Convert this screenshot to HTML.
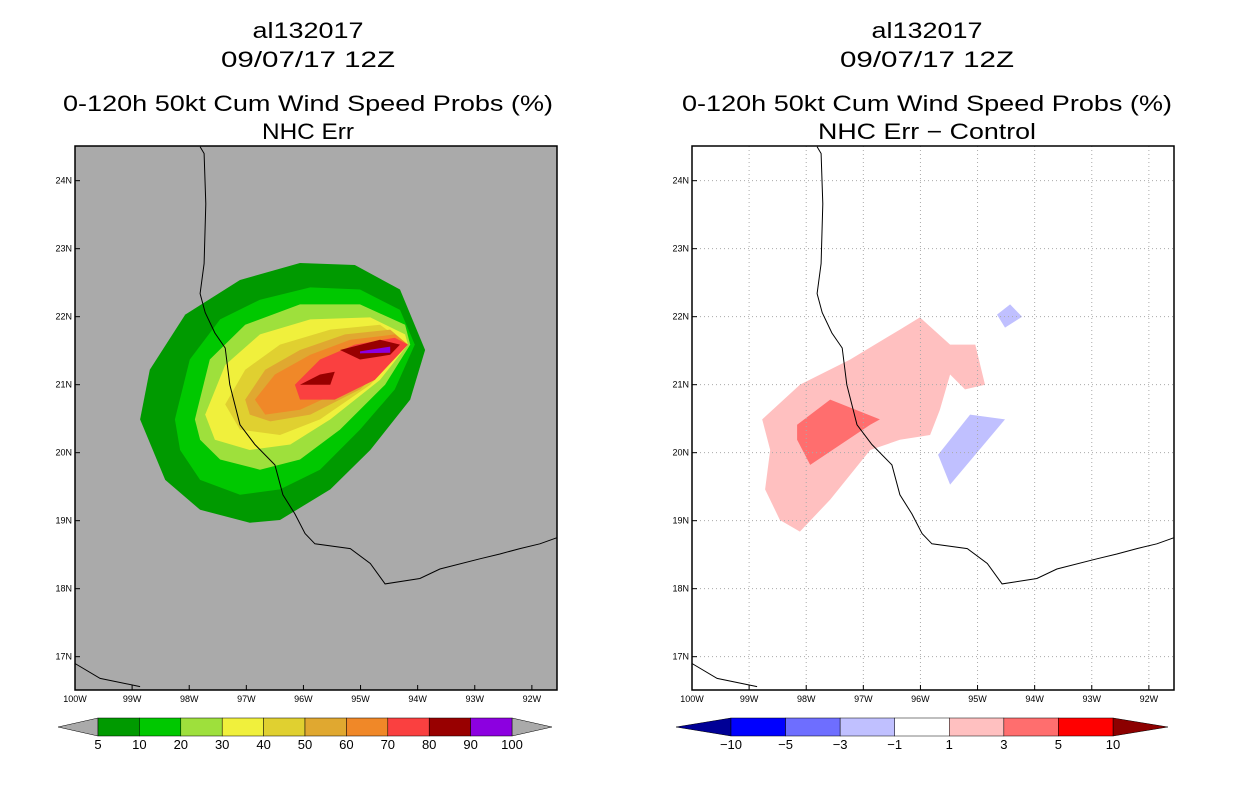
<!DOCTYPE html>
<html><head><meta charset="utf-8"><style>
body{margin:0;background:#fff;}
svg{display:block;font-family:"Liberation Sans",sans-serif;}
</style></head><body>
<svg id="c" width="1236" height="800" xmlns="http://www.w3.org/2000/svg"></svg>
<script>
const lonTicks=[-100,-99,-98,-97,-96,-95,-94,-93,-92];
const latTicks=[17,18,19,20,21,22,23,24];
const probLevels=[5,10,20,30,40,50,60,70,80,90,100];
const probColors=["#009a00","#00c800","#9ee03c","#f0f03c","#e0d030","#e0a830","#f08828","#fa4040","#980000","#8c00e0"];
const diffLevels=[-10,-5,-3,-1,1,3,5,10];
const diffColors=["#000096","#0000ff","#6e6eff","#c0c0ff","#ffffff","#ffc0c0","#ff6e6e","#ff0000","#8c0000"];
const probPolys=[
 [0,[[-98.86,20.49],[-98.69,21.22],[-98.07,22.03],[-97.11,22.54],[-96.06,22.79],[-95.10,22.76],[-94.31,22.40],[-93.87,21.51],[-94.13,20.78],[-94.83,20.04],[-95.53,19.46],[-96.41,19.01],[-96.94,18.97],[-97.81,19.16],[-98.42,19.60]]],
 [1,[[-98.25,20.49],[-97.99,21.37],[-97.46,21.96],[-96.76,22.25],[-95.88,22.43],[-95.01,22.40],[-94.31,22.10],[-94.05,21.59],[-94.40,20.93],[-95.01,20.34],[-95.71,19.75],[-96.41,19.46],[-97.11,19.38],[-97.81,19.60],[-98.16,20.04]]],
 [2,[[-97.90,20.49],[-97.64,21.37],[-97.02,21.88],[-96.06,22.18],[-95.01,22.18],[-94.22,21.88],[-94.13,21.59],[-94.57,21.00],[-95.36,20.34],[-96.06,19.90],[-96.76,19.75],[-97.46,19.90],[-97.81,20.19]]],
 [3,[[-97.72,20.56],[-97.37,21.29],[-96.76,21.74],[-95.88,21.96],[-94.83,21.99],[-94.22,21.74],[-94.17,21.59],[-94.66,21.07],[-95.53,20.49],[-96.23,20.12],[-96.94,20.04],[-97.55,20.19]]],
 [4,[[-97.37,20.71],[-97.02,21.22],[-96.41,21.59],[-95.53,21.81],[-94.66,21.88],[-94.17,21.59],[-94.83,21.00],[-95.71,20.49],[-96.41,20.26],[-97.11,20.34]]],
 [5,[[-97.02,20.78],[-96.67,21.22],[-96.06,21.51],[-95.27,21.74],[-94.48,21.81],[-94.17,21.59],[-95.01,20.93],[-95.88,20.56],[-96.58,20.46],[-96.94,20.56]]],
 [6,[[-96.85,20.78],[-96.50,21.15],[-95.88,21.44],[-95.18,21.66],[-94.40,21.74],[-94.17,21.59],[-95.10,21.00],[-96.06,20.63],[-96.67,20.56]]],
 [7,[[-96.15,21.00],[-95.71,21.37],[-95.10,21.59],[-94.40,21.69],[-94.17,21.59],[-94.75,21.07],[-95.45,20.78],[-96.06,20.78]]],
 [8,[[-96.06,21.00],[-95.71,21.15],[-95.45,21.19],[-95.53,21.00]]],
 [8,[[-95.36,21.51],[-94.66,21.66],[-94.31,21.59],[-94.48,21.44],[-95.01,21.37]]],
 [9,[[-95.01,21.49],[-94.48,21.56],[-94.48,21.47],[-95.01,21.46]]]
];
const diffPolys=[
 [5,[[-98.77,20.49],[-98.11,21.00],[-97.23,21.37],[-96.36,21.81],[-96.01,21.99],[-95.48,21.59],[-95.04,21.59],[-94.87,21.00],[-95.22,20.93],[-95.48,21.15],[-95.66,20.63],[-95.83,20.26],[-96.36,20.19],[-96.88,20.04],[-97.58,19.31],[-98.11,18.84],[-98.46,19.01],[-98.72,19.46],[-98.63,20.04]]],
 [6,[[-98.16,20.41],[-97.58,20.78],[-96.71,20.49],[-96.88,20.41],[-97.93,19.82],[-98.16,20.19]]],
 [3,[[-95.69,19.97],[-95.13,20.56],[-94.52,20.49],[-95.48,19.53]]],
 [3,[[-94.66,22.03],[-94.43,22.18],[-94.22,22.00],[-94.52,21.84]]]
];
const coast=[[-97.81,24.5],[-97.74,24.40],[-97.71,23.66],[-97.74,22.78],[-97.81,22.34],[-97.72,22.06],[-97.55,21.76],[-97.37,21.54],[-97.29,21.00],[-97.11,20.41],[-96.85,20.12],[-96.50,19.82],[-96.36,19.38],[-96.15,19.10],[-95.97,18.81],[-95.80,18.66],[-95.18,18.59],[-94.83,18.37],[-94.57,18.07],[-93.96,18.15],[-93.61,18.29],[-92.91,18.44],[-92.56,18.51],[-92.21,18.59],[-91.86,18.66],[-91.56,18.75]];
const coast2=[[-100,16.90],[-99.56,16.68],[-98.86,16.56]];
const panels=[{x0:75,cx:308,title:"NHC Err",tw:92,fill:"#aaaaaa",grid:false,name:"left"},{x0:692,cx:927,title:"NHC Err \u2212 Control",tw:218,fill:"#ffffff",grid:true,name:"right"}];
const NS="http://www.w3.org/2000/svg",svg=document.getElementById('c');
function mk(t,a,p){const e=document.createElementNS(NS,t);for(const k in a)e.setAttribute(k,a[k]);(p||svg).appendChild(e);return e;}
const W=482,Y0=146,H=544,LON0=-100,LON1=-91.56,LAT0=16.51,LAT1=24.51;
panels.forEach(P=>{
 const X=l=>P.x0+(l-LON0)/(LON1-LON0)*W, Y=l=>Y0+(LAT1-l)/(LAT1-LAT0)*H;
 [["al132017",38,111],["09/07/17 12Z",67,174],["0-120h 50kt Cum Wind Speed Probs (%)",111,490],[P.title,139,P.tw]].forEach((t,i)=>{
  const e=mk('text',{x:P.cx,y:t[1],'text-anchor':'middle','font-size':22,fill:'#000',textLength:t[2],lengthAdjust:'spacingAndGlyphs'});e.textContent=t[0];
  
  
 });
 const bg=mk('rect',{x:P.x0,y:Y0,width:W,height:H,fill:P.fill});
 
 
 const pts=poly=>poly.map(p=>X(p[0]).toFixed(1)+','+Y(p[1]).toFixed(1)).join(' ');
 const polys=P.grid?diffPolys:probPolys, cols=P.grid?diffColors:probColors;
 polys.forEach(pp=>{
  const e=mk('polygon',{points:pts(pp[1]),fill:cols[pp[0]]});
  
  
 });
 if(P.grid){
  lonTicks.forEach(l=>{const e=mk('line',{x1:X(l),x2:X(l),y1:Y0,y2:Y0+H,stroke:'#aaa','stroke-dasharray':'1,3'});});
  latTicks.forEach(l=>{const e=mk('line',{x1:P.x0,x2:P.x0+W,y1:Y(l),y2:Y(l),stroke:'#aaa','stroke-dasharray':'1,3'});});
 }
 [coast,coast2].forEach(c=>{const e=mk('polyline',{points:pts(c),fill:'none',stroke:'#000','stroke-width':1});});
 const fr=mk('rect',{x:P.x0,y:Y0,width:W,height:H,fill:'none',stroke:'#000','stroke-width':1.5});
 
 
 lonTicks.forEach(l=>{
  mk('line',{x1:X(l),x2:X(l),y1:Y0+H,y2:Y0+H-5,stroke:'#000'});
  const e=mk('text',{x:X(l),y:Y0+H+12,'text-anchor':'middle','font-size':9});e.textContent=Math.abs(l)+'W';
  
  
 });
 latTicks.forEach(l=>{
  mk('line',{x1:P.x0,x2:P.x0+5,y1:Y(l),y2:Y(l),stroke:'#000'});
  const e=mk('text',{x:P.x0-3,y:Y(l)+3,'text-anchor':'end','font-size':9});e.textContent=l+'N';
  
  
 });
 const lev=P.grid?diffLevels:probLevels;
 const cb0=P.grid?731:98, cb1=P.grid?1113:512, tri=P.grid?55:40, yT=718,hB=18;
 const bw=(cb1-cb0)/(lev.length-1);
 const lcol=P.grid?diffColors[0]:"#aaaaaa", rcol=P.grid?diffColors[diffColors.length-1]:"#aaaaaa";
 const boxCols=P.grid?diffColors.slice(1,-1):probColors;
 let e=mk('polygon',{points:`${cb0},${yT} ${cb0-tri},${yT+hB/2} ${cb0},${yT+hB}`,fill:lcol,stroke:'#000','stroke-width':0.5});
 
 
 e=mk('polygon',{points:`${cb1},${yT} ${cb1+tri},${yT+hB/2} ${cb1},${yT+hB}`,fill:rcol,stroke:'#000','stroke-width':0.5});
 
 
 boxCols.forEach((c,i)=>{
  const r=mk('rect',{x:cb0+i*bw,y:yT,width:bw,height:hB,fill:c,stroke:'#000','stroke-width':0.5});
  
  
 });
 lev.forEach((v,i)=>{
  const t=mk('text',{x:cb0+i*bw,y:yT+hB+13,'text-anchor':'middle','font-size':13});t.textContent=(v<0?'\u2212'+(-v):v);
  
  
 });
});
</script></body></html>
